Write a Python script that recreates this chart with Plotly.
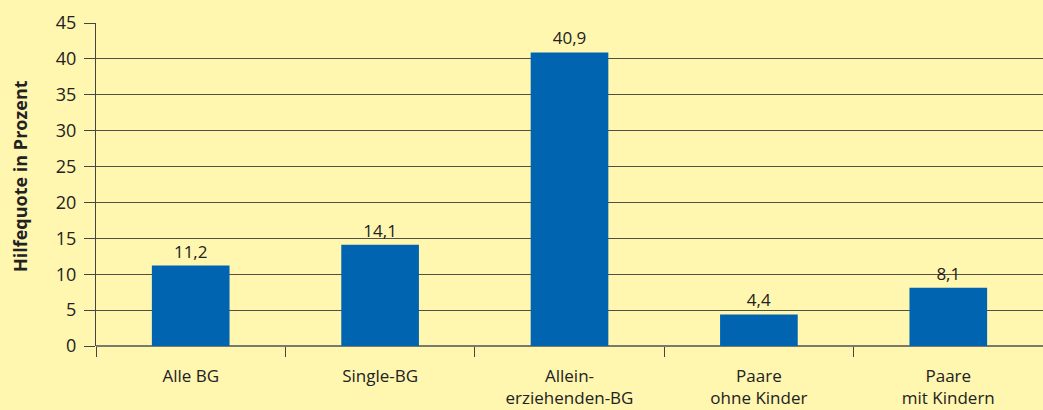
import plotly.graph_objects as go

categories = ["Alle BG", "Single-BG", "Allein-<br>erziehenden-BG", "Paare<br>ohne Kinder", "Paare<br>mit Kindern"]
values = [11.2, 14.1, 40.9, 4.4, 8.1]
y_ticks = [0, 5, 10, 15, 20, 25, 30, 35, 40, 45]
y_title = "Hilfequote in Prozent"

BG = "#FFF6B0"
BAR = "#0064B0"
TXT = "#222222"
FONT = "Open Sans"

fig = go.Figure(go.Bar(
    x=categories, y=values,
    marker=dict(color=BAR, line=dict(width=0)),
    texttemplate="%{y:.1f}", textposition="outside",
    textfont=dict(size=17, color=TXT, family=FONT),
    cliponaxis=False,
    width=0.41,
))

fig.update_layout(
    width=1043, height=410,
    paper_bgcolor=BG, plot_bgcolor=BG,
    margin=dict(l=96, r=0, t=23, b=64),
    separators=",.",
    showlegend=False,
    font=dict(family=FONT, size=17, color=TXT),
    xaxis=dict(
        showgrid=False, ticks="outside", tickson="boundaries", ticklen=10,
        tickcolor="#444444", tickwidth=1, showline=False,
        ticklabelstandoff=18,
        tickfont=dict(size=17, color=TXT, family=FONT),
    ),
    yaxis=dict(
        range=[0, 45], tickvals=y_ticks, ticks="outside", ticklen=11,
        tickcolor="#444444", tickwidth=1, ticklabelstandoff=4,
        showgrid=True, gridcolor="#505045", gridwidth=1,
        showline=True, linecolor="#444444", linewidth=1,
        zeroline=True, zerolinecolor="#7a7a6a", zerolinewidth=2,
        tickfont=dict(size=18, color=TXT, family=FONT),
    ),
    annotations=[dict(
        text="<b>" + y_title + "</b>", textangle=-90, showarrow=False,
        xref="paper", yref="paper", x=(20 - 96) / 947, y=(346 - 176) / 323,
        xanchor="center", yanchor="middle",
        font=dict(size=18, color=TXT, family=FONT),
    )],
)

fig.write_html(
    "out.html",
    config={"displayModeBar": False},
    post_script="document.body.style.margin='0';document.body.style.background='" + BG + "';",
)
